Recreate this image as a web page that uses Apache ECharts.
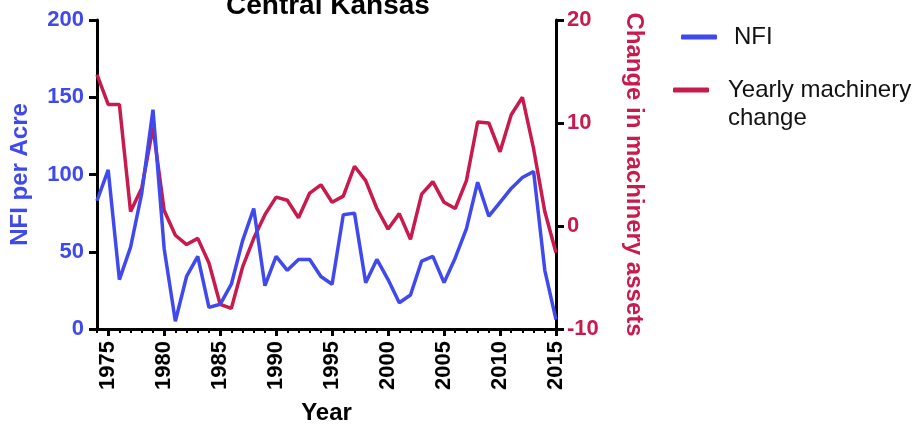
<!DOCTYPE html>
<html>
<head>
<meta charset="utf-8">
<script src="https://cdn.jsdelivr.net/npm/echarts@6/dist/echarts.min.js"></script>
<style>
  html, body { margin: 0; padding: 0; background: #fff; }
  #chart { width: 918px; height: 430px; }
</style>
</head>
<body>
<div id="chart"></div>
<script>
var years = [1974, 1975, 1976, 1977, 1978, 1979, 1980, 1981, 1982, 1983, 1984, 1985, 1986, 1987,
  1988, 1989, 1990, 1991, 1992, 1993, 1994, 1995, 1996, 1997, 1998, 1999, 2000, 2001,
  2002, 2003, 2004, 2005, 2006, 2007, 2008, 2009, 2010, 2011, 2012, 2013, 2014, 2015];
var nfi = [83, 103, 32, 53, 88, 142, 52, 5, 34, 47, 14, 16, 29, 57,
  78, 28, 47, 38, 45, 45, 34, 29, 74, 75, 30, 45, 32, 17,
  22, 44, 47, 30, 46, 65, 95, 73, 82, 91, 98, 102, 38, 6];
var machinery = [14.7, 11.8, 11.8, 1.4, 3.7, 9.6, 1.5, -0.9, -1.8, -1.2, -3.6, -7.6, -8.0, -4.0,
  -1.2, 1.1, 2.8, 2.5, 0.8, 3.2, 4.0, 2.3, 2.9, 5.8, 4.4, 1.7, -0.3, 1.2,
  -1.3, 3.1, 4.3, 2.3, 1.7, 4.4, 10.1, 10.0, 7.2, 10.8, 12.5, 7.5, 1.4, -2.6];
var leftTicks = [0, 50, 100, 150, 200];
var rightTicks = [-10, 0, 10, 20];

var blue = '#3F49EE';
var red = '#C81A4C';
var font = 'Liberation Sans, Arial, sans-serif';
var cats = years.map(String);

var axisLine = { show: true, onZero: false, lineStyle: { color: '#000', width: 3 } };
var everyFifth = function (i, v) { return Number(v) % 5 === 0; };

var option = {
  animation: false,
  textStyle: { fontFamily: font },
  title: {
    text: 'Central Kansas',
    left: 221,
    top: -13,
    textStyle: { fontSize: 28, fontWeight: 'bold', color: '#000', fontFamily: font }
  },
  grid: { left: 95, right: 362, top: 20, bottom: 101, containLabel: false },
  legend: [
    {
      data: ['NFI'],
      left: 681, top: 25, padding: 0,
      icon: 'roundRect', itemWidth: 36, itemHeight: 5,
      textStyle: { fontSize: 24, color: '#111', padding: [0, 0, 0, 12], fontFamily: font }
    },
    {
      data: ['Yearly machinery change'],
      left: 673, top: 50, padding: 0,
      icon: 'roundRect', itemWidth: 36, itemHeight: 5,
      formatter: function () { return '{a| }\n{a|Yearly machinery}\n{a|change}'; },
      textStyle: {
        color: '#111', padding: [0, 0, 0, 14], fontFamily: font,
        rich: { a: { fontSize: 24, lineHeight: 28, color: '#111', fontFamily: font } }
      }
    }
  ],
  xAxis: [
    {
      type: 'category',
      data: cats,
      boundaryGap: false,
      axisLine: axisLine,
      axisTick: { show: true, interval: 0, length: 4, lineStyle: { color: '#000', width: 2 } },
      axisLabel: { show: false },
      splitLine: { show: false }
    },
    {
      type: 'category',
      data: cats,
      boundaryGap: false,
      position: 'bottom',
      axisLine: { show: false, onZero: false },
      axisTick: {
        show: true, length: 7, lineStyle: { color: '#000', width: 3 },
        interval: everyFifth
      },
      axisLabel: {
        show: true, rotate: 90, margin: 12,
        fontSize: 22, fontWeight: 'bold', color: '#000', fontFamily: font,
        interval: everyFifth
      },
      name: 'Year',
      nameLocation: 'middle',
      nameGap: 72,
      nameTextStyle: { fontSize: 24, fontWeight: 'bold', color: '#000', fontFamily: font },
      splitLine: { show: false }
    }
  ],
  yAxis: [
    {
      type: 'value',
      min: leftTicks[0], max: leftTicks[leftTicks.length - 1], interval: 50,
      position: 'left',
      axisLine: axisLine,
      axisTick: { show: true, length: 8, lineStyle: { color: '#000', width: 3 } },
      axisLabel: { margin: 13, fontSize: 22, fontWeight: 'bold', color: blue, fontFamily: font },
      splitLine: { show: false },
      name: 'NFI per Acre',
      nameLocation: 'middle',
      nameRotate: 90,
      nameGap: 65,
      nameTextStyle: { fontSize: 24, fontWeight: 'bold', color: blue, fontFamily: font }
    },
    {
      type: 'value',
      min: rightTicks[0], max: rightTicks[rightTicks.length - 1], interval: 10,
      position: 'right',
      axisLine: axisLine,
      axisTick: { show: true, length: 8, lineStyle: { color: '#000', width: 3 } },
      axisLabel: { margin: 11, fontSize: 22, fontWeight: 'bold', color: red, fontFamily: font },
      splitLine: { show: false },
      name: 'Change in machinery assets',
      nameLocation: 'middle',
      nameRotate: -90,
      nameGap: 66,
      nameTextStyle: { fontSize: 24, fontWeight: 'bold', color: red, fontFamily: font }
    }
  ],
  series: [
    {
      name: 'NFI',
      type: 'line',
      xAxisIndex: 0,
      yAxisIndex: 0,
      data: nfi,
      showSymbol: false,
      symbol: 'none',
      z: 3,
      itemStyle: { color: blue },
      lineStyle: { color: blue, width: 3.5 }
    },
    {
      name: 'Yearly machinery change',
      type: 'line',
      xAxisIndex: 0,
      yAxisIndex: 1,
      data: machinery,
      showSymbol: false,
      symbol: 'none',
      z: 2,
      itemStyle: { color: red },
      lineStyle: { color: red, width: 3.5 }
    }
  ]
};

var myChart = echarts.init(document.getElementById('chart'));
myChart.setOption(option);
</script>
</body>
</html>
